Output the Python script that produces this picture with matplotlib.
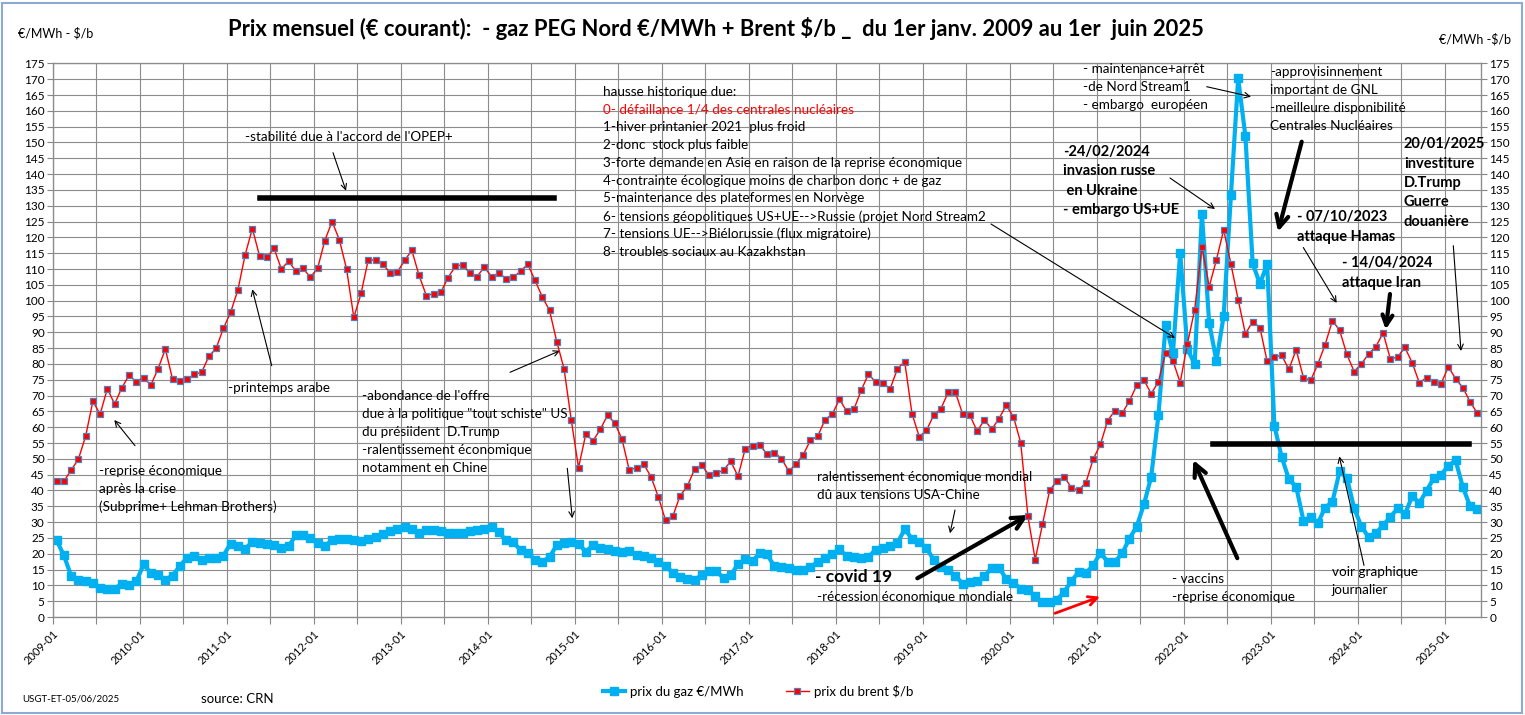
import numpy as np
import matplotlib
matplotlib.use("Agg")
from matplotlib import pyplot as plt
from matplotlib.patches import Rectangle
from matplotlib.transforms import ScaledTranslation

plt.rcParams['font.family'] = ['Lato', 'DejaVu Sans']

# prix mensuels, janv. 2009 -> mai 2025
gaz = [24.2, 19.5, 13, 11.8, 11.3, 10.8, 9.3, 8.8, 9, 10.5, 10.2, 11.3,
       16.6, 13.9, 13.3, 11.8, 13.1, 16.1, 18.8, 19.4, 18.1, 18.5, 18.7, 19.4,
       23.2, 22.6, 21.5, 23.8, 23.5, 23, 22.9, 21.8, 22.4, 25.8, 25.8, 25.1,
       23.5, 22.5, 24.2, 24.8, 24.8, 24.2, 23.9, 24.5, 25.3, 26.1, 27.1, 27.9,
       28.3, 27.9, 26.6, 27.4, 27.4, 27.1, 26.6, 26.6, 26.4, 27.1, 27.4, 27.9,
       28.5, 26.9, 24.2, 23.7, 21.1, 20.2, 18.1, 17.4, 19, 22.7, 23.5, 23.7,
       23.2, 20.6, 22.7, 21.9, 21.6, 20.9, 20.5, 20.8, 19.5, 19.2, 18.5, 17.4,
       16.1, 14, 12.7, 12.1, 11.8, 13.2, 14.4, 14.4, 12.4, 13.2, 16.7, 18.2,
       17.6, 20.3, 19.8, 16.1, 15.8, 15.5, 14.8, 14.8, 15.8, 17.4, 18.5, 20,
       21.4, 19.2, 19, 18.8, 19, 21.3, 21.8, 22.4, 23.5, 27.7, 24.8, 23.7,
       21.8, 18.1, 15.8, 14.8, 13, 10.5, 11.1, 11.4, 12.9, 15.6, 15.6, 12.1,
       10.8, 9, 8.4, 6.5, 4.7, 4.7, 5.5, 7.9, 11.4, 14.2, 13.9, 16.3,
       20.3, 17.5, 17.5, 20.1, 24.8, 28.6, 35.6, 44.3, 63.8, 92.4, 83.4, 115.2,
       84.7, 80, 127.4, 93, 81, 95.2, 133.3, 170.3, 151.9, 111.8, 105.3, 111.6,
       60.4, 50.6, 43.5, 41.2, 30.5, 31.6, 29.7, 34.6, 36.4, 46.1, 44, 34.4,
       28.6, 25.2, 26.5, 29, 31.6, 34.4, 32.5, 38.1, 36.1, 39.9, 44, 45,
       47.8, 49.5, 41, 35, 34.2]

brent = [42.9, 42.9, 46.4, 49.9, 57.1, 68.2, 64.1, 72.2, 67.3, 72.5, 76.4, 74.3,
         75.7, 73.3, 78.5, 84.7, 75.1, 74.5, 75.1, 76.8, 77.3, 82.4, 84.9, 91.2,
         96.3, 103.3, 114.4, 122.8, 114.1, 113.7, 116.5, 110, 112.5, 109.3, 110.2, 107.4,
         110.2, 119, 125, 119.3, 110, 94.7, 102.3, 113, 112.7, 111.5, 108.8, 109,
         112.7, 115.9, 108, 101.6, 102.2, 102.6, 107.3, 110.8, 111.4, 108.7, 107.6, 110.6,
         107.6, 108.7, 107, 107.4, 109.3, 111.5, 106.4, 101.2, 96.9, 87, 78.5, 62.2,
         47.2, 57.8, 55.7, 59.3, 63.8, 61.3, 56.2, 46.4, 47.2, 48.3, 44.3, 38,
         30.6, 31.8, 38.3, 41.3, 46.7, 48, 44.8, 45.4, 46.4, 49.2, 44.5, 53.2,
         54.2, 54.5, 51.4, 52, 50.1, 46.1, 48.3, 51.3, 55.9, 57.1, 62.4, 64.1,
         68.8, 65, 65.7, 71.7, 76.8, 74.2, 73.9, 72.2, 78.5, 80.7, 64.3, 57,
         59, 63.8, 65.9, 71, 71, 64.1, 63.7, 58.7, 62.4, 59.3, 62.7, 66.9,
         63.3, 55.1, 31.8, 18.1, 29.3, 40.1, 42.9, 44.4, 40.8, 40.1, 42.5, 49.9,
         54.6, 62.1, 65.2, 64.4, 68.3, 73.2, 74.9, 70.6, 74.3, 83.6, 81, 74.1,
         86.4, 97.1, 117.1, 104.4, 112.9, 122.4, 111.6, 100.3, 89.5, 93.4, 91.5, 80.8,
         82.2, 82.7, 78.3, 84.5, 75.7, 74.8, 80, 86.1, 93.7, 90.6, 83, 77.6,
         80, 83.2, 85.5, 89.8, 81.5, 82.2, 85.2, 80.4, 74, 75.7, 74.3, 73.8,
         79.1, 75.3, 72.5, 68, 64.4]

mois = [f"{2009 + k // 12}-{k % 12 + 1:02d}" for k in range(len(gaz))]

W, H = 1525, 715


def fp(x, y):
    # position en pixels -> fraction de la figure
    return (x / W, 1 - y / H)


fig = plt.figure(figsize=(W / 100, H / 100), dpi=100)
fig.patch.set_facecolor('white')
ax = fig.add_axes([53 / W, 1 - 617 / H, (1481 - 53) / W, (617 - 63.4) / H])

n = len(gaz)
x = np.arange(n) + 0.5
ax.plot(x, gaz, color='#00B0F0', lw=3, marker='s', ms=6, mec='#00B0F0', zorder=3,
        label='prix du gaz €/MWh')
ax.plot(x, brent, color='red', lw=1, marker='s', ms=4.5, mfc='red', mec='#4F81BD',
        mew=0.9, zorder=4, label='prix du brent $/b')

ax.set_xlim(0, n)
ax.set_ylim(0, 175)
ax.set_xticks(range(0, n, 6))
ax.set_xticklabels([mois[k] if k % 12 == 0 else '' for k in range(0, n, 6)],
                   rotation=45, ha='right', va='top', rotation_mode='anchor', fontsize=8)
decal = ScaledTranslation(5 / 100, 0, fig.dpi_scale_trans)
for lab in ax.get_xticklabels():
    lab.set_transform(lab.get_transform() + decal)
ax.set_yticks(range(0, 176, 5))
ax.tick_params(axis='y', labelsize=8.5, length=4, color='#868686', pad=2)
ax.tick_params(axis='x', length=5, color='#868686', pad=3)
ax.grid(True, color='#8c8c8c', lw=0.8)
for s in ax.spines.values():
    s.set_color('#8c8c8c')
    s.set_linewidth(0.9)

ax2 = ax.twinx()
ax2.set_ylim(0, 175)
ax2.set_yticks(range(0, 176, 5))
ax2.tick_params(axis='y', labelsize=8.5, length=4, color='#868686', pad=2)
for s in ax2.spines.values():
    s.set_color('#8c8c8c')

fig.legend(loc='center', bbox_to_anchor=fp(758, 691), ncol=2, frameon=False,
           fontsize=9.5, handlelength=1.7, columnspacing=3.2, handletextpad=0.4)

# cadre bleu clair
fig.add_artist(Rectangle((2 / W, 2 / H), (W - 5) / W, (H - 5) / H, transform=fig.transFigure,
                         fill=False, edgecolor='#8EAAD4', lw=1.5))

# titres
fig.text(*fp(228, 29), "Prix mensuel (€ courant):  - gaz PEG Nord €/MWh + Brent $/b _  du 1er janv. 2009 au 1er  juin 2025",
         fontsize=15.8, fontweight='bold', va='center')
fig.text(*fp(18, 33), "€/MWh - $/b", fontsize=9, va='center')
fig.text(*fp(1511, 39), "€/MWh -$/b", fontsize=9, va='center', ha='right')
fig.text(*fp(22, 699), "USGT-ET-05/06/2025", fontsize=7, va='center')
fig.text(*fp(201, 699), "source: CRN", fontsize=9.5, va='center')


def bloc(x0, y0, lignes, dy=18, fs=9.7, bold=False, color='black'):
    for k, t in enumerate(lignes):
        fig.text(*fp(x0, y0 + k * dy), t, fontsize=fs, va='center', color=color,
                 fontweight='bold' if bold else 'normal')


def fleche(x1, y1, x2, y2, lw=0.8, color='black', ms=10):
    ax.annotate('', xy=fp(x2, y2), xytext=fp(x1, y1), xycoords='figure fraction',
                textcoords='figure fraction',
                arrowprops=dict(arrowstyle='->', color=color, lw=lw, mutation_scale=ms,
                                shrinkA=0, shrinkB=0), annotation_clip=False)


def trait(x1, x2, y):
    fig.add_artist(plt.Line2D([x1 / W, x2 / W], [1 - y / H, 1 - y / H], color='black',
                              lw=4, transform=fig.transFigure))


bloc(245, 137, ["-stabilité due à l'accord de l'OPEP+"])
bloc(602.7, 91.7, ["hausse historique due:"], dy=17.8)
bloc(602.7, 109.5, ["0- défaillance 1/4 des centrales nucléaires"], color='red')
bloc(602.7, 127.3, ["1-hiver printanier 2021  plus froid",
                    "2-donc  stock plus faible",
                    "3-forte demande en Asie en raison de la reprise économique",
                    "4-contrainte écologique moins de charbon donc + de gaz",
                    "5-maintenance des plateformes en Norvège",
                    "6- tensions géopolitiques US+UE-->Russie (projet Nord Stream2",
                    "7- tensions UE-->Biélorussie (flux migratoire)",
                    "8- troubles sociaux au Kazakhstan"], dy=17.8)
bloc(1083, 69, ["- maintenance+arrêt", "-de Nord Stream1", "- embargo  européen"])
bloc(1270, 71.7, ["-approvisinnement", "important de GNL", "-meilleure disponibilité",
                  "Centrales Nucléaires"])
bloc(228, 388, ["-printemps arabe"])
bloc(99.3, 470.7, ["-reprise économique", "après la crise", "(Subprime+ Lehman Brothers)"])
bloc(362, 395.7, ["-abondance de l'offre", "due à la politique \"tout schiste\" US",
                  "du présiident  D.Trump", "-ralentissement économique", "notamment en Chine"])
bloc(817, 477.3, ["ralentissement économique mondial", "dû aux tensions USA-Chine"])
bloc(815, 577, ["- covid 19"], fs=12.5, bold=True)
bloc(817, 596.7, ["-récession économique mondiale"])
bloc(1171.7, 578.6, ["- vaccins", "-reprise économique"])
bloc(1331.5, 572.5, ["voir graphique", "journalier"])
bloc(1063, 152, ["-24/02/2024", "invasion russe", " en Ukraine", "- embargo US+UE"], dy=19.3,
     fs=10.5, bold=True)
bloc(1404, 144, ["20/01/2025", "investiture", "D.Trump", "Guerre", "douanière"], dy=19.5,
     fs=10.5, bold=True)
bloc(1297, 217, ["- 07/10/2023", "attaque Hamas"], dy=20, fs=10.5, bold=True)
bloc(1341.7, 263, ["- 14/04/2024", "attaque Iran"], dy=20, fs=10.5, bold=True)

# fleches fines
fleche(333, 152.7, 346, 190.7)
fleche(271.7, 365.7, 252.3, 289.3)
fleche(135, 445.7, 114.3, 420)
fleche(510, 372.3, 560, 350.7)
fleche(567.3, 468.3, 572.3, 518.3)
fleche(955, 510, 950, 533.3)
fleche(991, 224, 1175, 338)
fleche(1206.7, 86.7, 1251, 96.7)
fleche(1170, 178, 1215, 209)
fleche(1364, 565.4, 1339.3, 456.4)
fleche(1303.3, 247.5, 1336.7, 302.9)
fleche(1453.3, 245.7, 1461, 351)
# fleches epaisses
fleche(917.3, 578.3, 1028.3, 515, lw=3, ms=22)
fleche(1237.3, 558.2, 1193.3, 460, lw=3, ms=22)
fleche(1301.7, 141.7, 1278, 231.7, lw=3, ms=22)
fleche(1390, 294, 1385.7, 329.6, lw=3, ms=18)
fleche(1055, 613.3, 1100, 596.7, lw=2, color='red', ms=16)

trait(259.5, 554, 198)
trait(1213, 1469, 444)

fig.savefig('out.png', dpi=100, facecolor='white')
